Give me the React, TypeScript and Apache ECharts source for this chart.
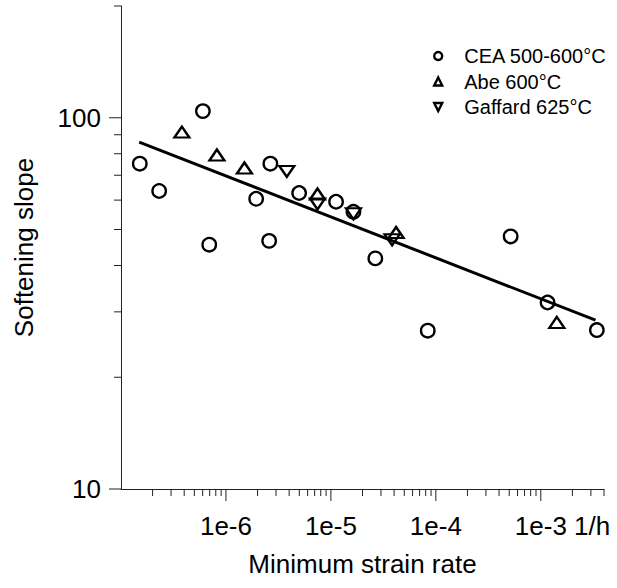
import React, { useEffect, useRef } from "react";
import * as echarts from "echarts";

// ---- data ----
const ceaX = [1.51e-7, 2.31e-7, 6.03e-7, 6.93e-7, 1.94e-6, 2.65e-6, 2.58e-6, 4.98e-6, 1.12e-5, 1.64e-5, 2.65e-5, 8.37e-5, 5.16e-4, 1.16e-3, 3.42e-3];
const ceaY = [75.2, 63.5, 104.2, 45.5, 60.5, 75.2, 46.6, 62.7, 59.4, 55.8, 41.8, 26.7, 47.9, 31.8, 26.8];

const abeX = [3.8e-7, 8.2e-7, 1.5e-6, 7.45e-6, 4.18e-5, 1.42e-3];
const abeY = [91.5, 79.4, 73.2, 62.3, 49.1, 28.1];

const gaffardX = [3.8e-6, 7.45e-6, 1.64e-5, 3.83e-5];
const gaffardY = [71.7, 58.6, 55.1, 46.9];

const fitX = [1.49e-7, 3.32e-3];
const fitY = [86, 28.5];

const seriesNames = ["CEA 500-600°C", "Abe 600°C", "Gaffard 625°C"];

const xMin = 1e-7;
const xMax = 4e-3;
const yMin = 10;
const yMax = 200;

const xTickValues = [1e-6, 1e-5, 1e-4, 1e-3];
const xTickLabels = ["1e-6", "1e-5", "1e-4", "1e-3 1/h"];
const yTickValues = [10, 100];
const yTickLabels = ["10", "100"];

const xDecades = [1e-7, 1e-6, 1e-5, 1e-4, 1e-3];
const yDecades = [10, 100];
const minorMultiples = [2, 3, 4, 5, 6, 7, 8, 9];

const FONT = "'Liberation Sans', Arial, Helvetica, sans-serif";
const DOWN_TRIANGLE = "path://M0,0L10,0L5,10Z";

function zip(xs: number[], ys: number[]) {
  return xs.map((x, i) => [x, ys[i]]);
}

function sameLog(a: number, b: number) {
  return Math.abs(Math.log10(a) - Math.log10(b)) < 1e-6;
}

export default function App() {
  const ref = useRef<HTMLDivElement>(null);

  useEffect(() => {
    document.body.style.margin = "0";
    if (!ref.current) return;
    const chart = echarts.init(ref.current, undefined, { renderer: "svg" });

    // tick marks: [x, y, length]
    const xTicks: number[][] = [];
    xTickValues.forEach((v) => xTicks.push([v, yMin, 12]));
    xDecades.forEach((d) =>
      minorMultiples.forEach((m) => {
        const v = d * m;
        if (v <= xMax * 1.0001) xTicks.push([v, yMin, 7]);
      })
    );
    const yTicks: number[][] = [];
    yTickValues.forEach((v) => yTicks.push([xMin, v, 12]));
    yDecades.forEach((d) =>
      minorMultiples.forEach((m) => {
        const v = d * m;
        if (v <= yMax * 1.0001) yTicks.push([xMin, v, 7]);
      })
    );

    const tickSeries = (name: string, data: number[][], vertical: boolean) => ({
      name,
      type: "custom",
      coordinateSystem: "cartesian2d",
      silent: true,
      clip: false,
      data,
      encode: { x: 0, y: 1 },
      renderItem: (_params: any, api: any) => {
        const p = api.coord([api.value(0), api.value(1)]);
        const len = Number(api.value(2));
        const shape = vertical
          ? { x1: p[0], y1: p[1], x2: p[0], y2: p[1] + len }
          : { x1: p[0], y1: p[1], x2: p[0] - len, y2: p[1] };
        return {
          type: "line",
          shape,
          style: { stroke: "#222", lineWidth: 1 },
        };
      },
      z: 2,
    });

    const markerStyle = {
      color: "rgba(0,0,0,0)",
      borderColor: "#000",
      borderWidth: 2.3,
      opacity: 1,
    };

    const option: any = {
      animation: false,
      textStyle: { fontFamily: FONT, color: "#000" },
      grid: {
        left: 121,
        right: 13,
        top: 6,
        bottom: 99,
        containLabel: false,
        outerBoundsMode: "none",
      },
      legend: {
        data: seriesNames,
        orient: "vertical",
        left: 428,
        top: 41,
        itemWidth: 8,
        itemHeight: 8,
        itemGap: 5.5,
        selectedMode: false,
        itemStyle: { borderWidth: 2.4, opacity: 1 },
        textStyle: {
          fontFamily: FONT,
          fontSize: 20,
          color: "#000",
          padding: [0, 0, 0, 17],
        },
      },
      xAxis: {
        type: "log",
        logBase: 10,
        min: xMin,
        max: xMax,
        name: "Minimum strain rate",
        nameLocation: "middle",
        nameGap: 62,
        nameTextStyle: { fontFamily: FONT, fontSize: 26, color: "#000" },
        axisLine: { show: true, lineStyle: { color: "#222", width: 1 } },
        axisTick: { show: false },
        splitLine: { show: false },
        axisLabel: {
          show: true,
          margin: 24,
          fontFamily: FONT,
          fontSize: 26,
          color: "#000",
          showMinLabel: true,
          showMaxLabel: true,
          formatter: (v: number) => {
            const i = xTickValues.findIndex((t) => sameLog(t, v));
            if (i < 0) return "";
            const s = xTickLabels[i];
            const sp = s.indexOf(" ");
            if (sp < 0) return s;
            return `{pad|}{n|${s.slice(0, sp)}}{n|${s.slice(sp)}}`;
          },
          rich: {
            pad: { width: 43.4, fontSize: 26, fontFamily: FONT },
            n: { fontSize: 26, fontFamily: FONT, color: "#000" },
          },
        },
      },
      yAxis: {
        type: "log",
        logBase: 10,
        min: yMin,
        max: yMax,
        name: "Softening slope",
        nameLocation: "middle",
        nameGap: 84,
        nameTextStyle: { fontFamily: FONT, fontSize: 26, color: "#000" },
        axisLine: { show: true, lineStyle: { color: "#222", width: 1 } },
        axisTick: { show: false },
        splitLine: { show: false },
        axisLabel: {
          show: true,
          margin: 20,
          fontFamily: FONT,
          fontSize: 26,
          color: "#000",
          formatter: (v: number) => {
            const i = yTickValues.findIndex((t) => sameLog(t, v));
            return i < 0 ? "" : yTickLabels[i];
          },
        },
      },
      series: [
        {
          name: "fit",
          type: "line",
          data: zip(fitX, fitY),
          symbol: "none",
          lineStyle: { color: "#000", width: 3 },
          silent: true,
          z: 1,
        },
        {
          name: seriesNames[0],
          type: "scatter",
          data: zip(ceaX, ceaY),
          symbol: "circle",
          symbolSize: 13.5,
          itemStyle: markerStyle,
          z: 3,
        },
        {
          name: seriesNames[1],
          type: "scatter",
          data: zip(abeX, abeY),
          symbol: "triangle",
          symbolSize: [15, 11],
          itemStyle: markerStyle,
          z: 3,
        },
        {
          name: seriesNames[2],
          type: "scatter",
          data: zip(gaffardX, gaffardY),
          symbol: DOWN_TRIANGLE,
          symbolSize: [15, 11],
          itemStyle: markerStyle,
          z: 3,
        },
        tickSeries("xTicks", xTicks, true),
        tickSeries("yTicks", yTicks, false),
      ],
    };

    chart.setOption(option);
    return () => chart.dispose();
  }, []);

  return <div ref={ref} style={{ width: 617, height: 588 }} />;
}
